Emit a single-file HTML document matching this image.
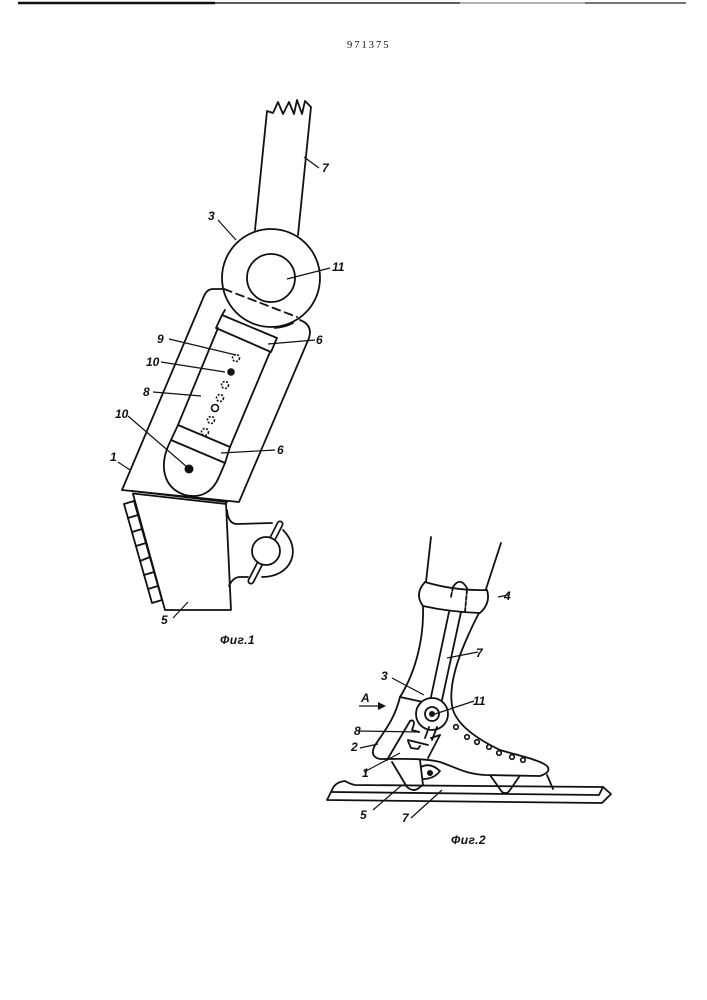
<!DOCTYPE html>
<html><head><meta charset="utf-8"><style>
html,body{margin:0;padding:0;background:#fff}
svg{display:block}
text{font-family:"Liberation Sans",sans-serif;font-style:italic;font-weight:bold;font-size:12px;fill:#111}
.l{fill:none;stroke:#111;stroke-width:1.8;stroke-linecap:round;stroke-linejoin:round}
.t{fill:none;stroke:#111;stroke-width:1.2}
</style></head><body>
<svg width="707" height="1000" viewBox="0 0 707 1000" xmlns="http://www.w3.org/2000/svg">
<rect width="707" height="1000" fill="#fff"/>
<path d="M18 3H215" stroke="#111" stroke-width="2.4"/>
<path d="M215 3H460" stroke="#444" stroke-width="1.8"/>
<path d="M460 3H585" stroke="#999" stroke-width="1.5"/>
<path d="M585 3H686" stroke="#222" stroke-width="1.2"/>
<text x="347" y="48" style="font-family:'Liberation Serif',serif;font-style:normal;font-weight:normal;font-size:10.5px;letter-spacing:2px">971375</text>

<!-- Fig 1 -->
<g class="l">
<path d="M255 230L267 111L273 113L278 102L283 114L289 102L294 114L297 100L302 114L305 101L311 107L298 235"/>
<circle cx="271" cy="278" r="49"/>
<circle cx="271" cy="278" r="24"/>
<path d="M224 289L297 317" stroke-dasharray="8 5"/>
<path d="M224 289H213Q207 289 204 296L122 490L239 502L309 338Q313 325 300 320"/>
<path d="M225 310L222 315M222 315L277 338L271 352L216 328Z"/>
<path d="M275 328Q286 327 293 323"/>
<path d="M218 328L178 425M270 352L230 447"/>
<path d="M178 425L230 447L225 463L171 440Z"/>
<path d="M171 440C158 465 163 488 185 495C202 499 213 491 219 477L225 463"/>
<path d="M132 491L227 502"/>
<path d="M133 493.500L226 504"/>
<path d="M133 494L165 610H231L226 503"/>
<path d="M124 504L134 501L162 600L152 603Z"/>
<path d="M128 518L138 515M132 532L142 529M136 546L146 543M140 561L150 557M144 575L154 572M148 589L158 586"/>
<path d="M227 510Q228 523 236 524L272 523"/>
<path d="M283 530C303 550 291 577 262 577"/>
<path d="M229 586Q233 577 240 577H248"/>
</g>
<path d="M280 524L251 581" stroke="#111" stroke-width="7" stroke-linecap="round"/>
<path d="M280 524L251 581" stroke="#fff" stroke-width="3.6" stroke-linecap="round"/>
<circle cx="266" cy="551" r="14" fill="#fff" stroke="#111" stroke-width="1.8"/>
<g fill="#fff" stroke="#111" stroke-width="1.6" stroke-dasharray="2 1.5">
<circle cx="236" cy="358" r="3.5"/>
<circle cx="225" cy="385" r="3.5"/>
<circle cx="220" cy="398" r="3.5"/>
<circle cx="215" cy="408" r="3.5" stroke-dasharray="none"/>
<circle cx="211" cy="420" r="3.5"/>
<circle cx="205" cy="432" r="3.5"/>
</g>
<circle cx="231" cy="372" r="3.8" fill="#111"/>
<circle cx="189" cy="469" r="4.5" fill="#111"/>
<g class="t">
<path d="M304 157L319 168"/>
<path d="M218 220L236 240"/>
<path d="M287 279L330 268"/>
<path d="M169 339L236 355"/>
<path d="M161 362L225 372"/>
<path d="M153 392L201 396"/>
<path d="M128 416L187 467"/>
<path d="M118 462L130 470"/>
<path d="M268 344L315 340"/>
<path d="M221 453L275 450"/>
<path d="M173 618L188 602"/>
</g>
<text x="322" y="172">7</text>
<text x="208" y="220">3</text>
<text x="332" y="271">11</text>
<text x="157" y="343">9</text>
<text x="146" y="366">10</text>
<text x="143" y="396">8</text>
<text x="115" y="418">10</text>
<text x="110" y="461">1</text>
<text x="316" y="344">6</text>
<text x="277" y="454">6</text>
<text x="161" y="624">5</text>
<text x="220" y="644" style="font-size:12px;letter-spacing:.4px">Фиг.1</text>

<!-- Fig 2 -->
<g class="l">
<path d="M431 537L426 582M501 543L486 589"/>
<path d="M425 582Q455 591 487 590Q491 603 480 613Q450 612 423 606Q414 594 425 582"/>
<path d="M423 607C424 635 417 670 400 697C394 722 381 735 374 747Q370 757 380 759C400 759 425 758 440 762C455 767 465 774 485 775L540 776Q552 772 547 766C540 760 520 756 500 750C475 738 458 725 453 710C448 692 455 668 462 650Q470 630 479 613"/>
<path d="M400 697L423 702"/>
<path d="M453 587Q460 576 467 588"/>
<path d="M453 587L451 597M467 590L465 612" stroke-dasharray="4 2"/>
<path d="M449 612L431 697M461 612L442 700"/>
<circle cx="432" cy="714" r="16" fill="#fff"/>
<circle cx="432" cy="714" r="7"/>
<path d="M410 721L387 760"/>
<path d="M410 721Q414 719 414 724L412 730L419 732"/>
<path d="M440 735L428 758"/>
<path d="M431 738L440 735"/>
<path d="M429 727L425 738M437 727L432 740"/>
<path d="M408 740L428 745M408 741L411 748L418 749L420 746"/>
<path d="M392 762L407 787Q414 793 420 787L423 785L420 760"/>
<path d="M490 775L502 792Q507 795 510 790L519 777"/>
<path d="M547 775L553 789"/>
<path d="M332 790Q335 782 345 781Q350 784 355 785L603 787L611 794L602 803L327 800L332 790"/>
<path d="M332 792L599 795L603 787"/>
<path d="M421 767Q430 762 440 771Q434 779 423 779"/>
</g>
<circle cx="432" cy="714" r="3" fill="#111"/>
<circle cx="430" cy="773" r="3" fill="#111"/>
<g fill="#fff" stroke="#111" stroke-width="1.6">
<circle cx="456" cy="727" r="2.3"/>
<circle cx="467" cy="737" r="2.3"/>
<circle cx="477" cy="742" r="2.3"/>
<circle cx="489" cy="747" r="2.3"/>
<circle cx="499" cy="753" r="2.3"/>
<circle cx="512" cy="757" r="2.3"/>
<circle cx="523" cy="760" r="2.3"/>
</g>
<g class="t">
<path d="M498 597L508 595"/>
<path d="M447 658L478 652"/>
<path d="M392 678L424 695"/>
<path d="M435 714L474 701"/>
<path d="M359 731L420 732"/>
<path d="M360 748L378 744"/>
<path d="M364 772L400 753"/>
<path d="M373 810L402 785"/>
<path d="M411 818L442 790"/>
<path d="M359 706L382 706"/>
</g>
<path d="M378 702L386 706L378 710Z" fill="#111"/>
<text x="504" y="600">4</text>
<text x="476" y="657">7</text>
<text x="381" y="680">3</text>
<text x="473" y="705">11</text>
<text x="354" y="735">8</text>
<text x="351" y="751">2</text>
<text x="362" y="777">1</text>
<text x="360" y="819">5</text>
<text x="402" y="822">7</text>
<text x="361" y="702">A</text>
<text x="451" y="844" style="font-size:12px;letter-spacing:.4px">Фиг.2</text>
</svg>
</body></html>
